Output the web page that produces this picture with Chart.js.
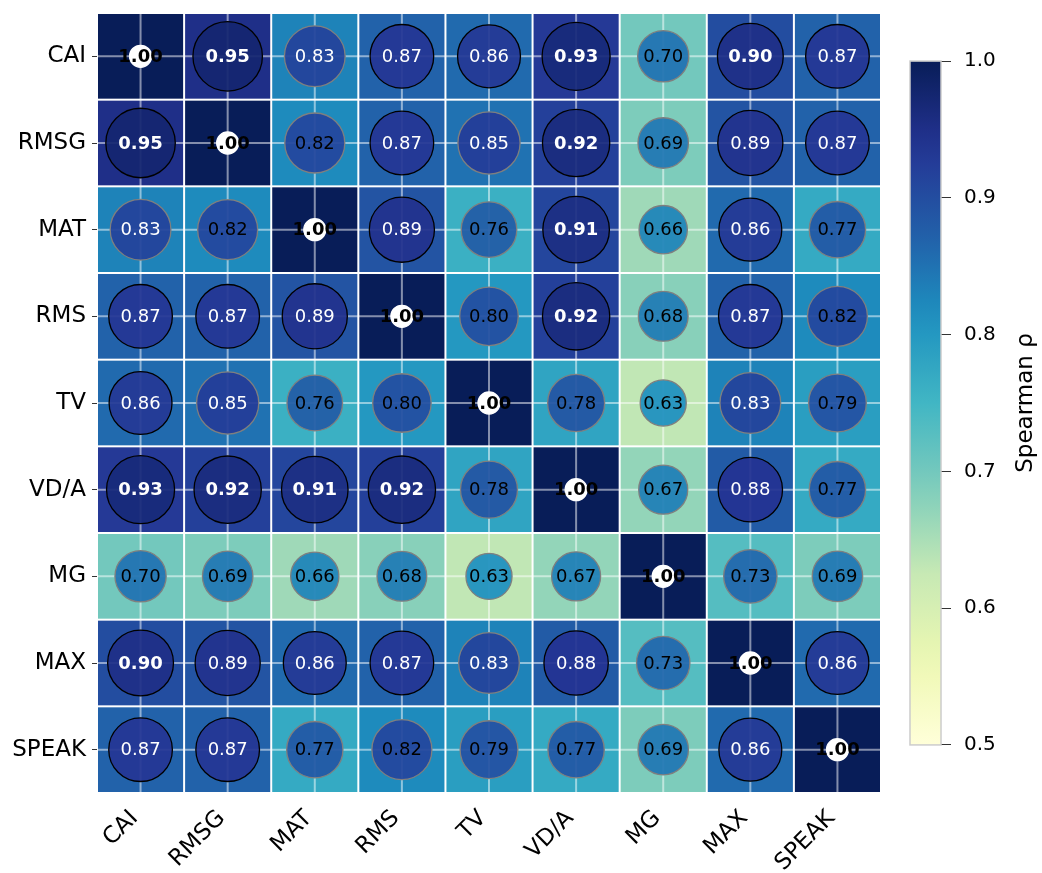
<!DOCTYPE html>
<html>
<head>
<meta charset="utf-8">
<script src="https://cdn.jsdelivr.net/npm/chart.js@4.4.1/dist/chart.umd.min.js"></script>
<style>
  body { margin: 0; background: #fff; }
  #wrap { width: 1042px; height: 873px; }
</style>
</head>
<body>
<div id="wrap"><canvas id="heat" width="1042" height="873"></canvas></div>
<script>
// variables (rows and columns use the same order)
const names = ["CAI", "RMSG", "MAT", "RMS", "TV", "VD/A", "MG", "MAX", "SPEAK"];

// spearman rho, one row per variable
const rowCAI   = [1.00, 0.95, 0.83, 0.87, 0.86, 0.93, 0.70, 0.90, 0.87];
const rowRMSG  = [0.95, 1.00, 0.82, 0.87, 0.85, 0.92, 0.69, 0.89, 0.87];
const rowMAT   = [0.83, 0.82, 1.00, 0.89, 0.76, 0.91, 0.66, 0.86, 0.77];
const rowRMS   = [0.87, 0.87, 0.89, 1.00, 0.80, 0.92, 0.68, 0.87, 0.82];
const rowTV    = [0.86, 0.85, 0.76, 0.80, 1.00, 0.78, 0.63, 0.83, 0.79];
const rowVDA   = [0.93, 0.92, 0.91, 0.92, 0.78, 1.00, 0.67, 0.88, 0.77];
const rowMG    = [0.70, 0.69, 0.66, 0.68, 0.63, 0.67, 1.00, 0.73, 0.69];
const rowMAX   = [0.90, 0.89, 0.86, 0.87, 0.83, 0.88, 0.73, 1.00, 0.86];
const rowSPEAK = [0.87, 0.87, 0.77, 0.82, 0.79, 0.77, 0.69, 0.86, 1.00];
const rho = [rowCAI, rowRMSG, rowMAT, rowRMS, rowTV, rowVDA, rowMG, rowMAX, rowSPEAK];

// colorbar
const cbarTicks = [0.5, 0.6, 0.7, 0.8, 0.9, 1.0];
const vmin = 0.5, vmax = 1.0;

// YlGnBu
const ylgnbu = ["#ffffd9", "#edf8b1", "#c7e9b4", "#7fcdbb", "#41b6c4", "#1d91c0", "#225ea8", "#253494", "#081d58"];
function hexRgb(h) {
  return [parseInt(h.slice(1, 3), 16), parseInt(h.slice(3, 5), 16), parseInt(h.slice(5, 7), 16)];
}
function cmap(t, a) {
  t = Math.max(0, Math.min(1, t));
  const p = t * (ylgnbu.length - 1);
  const i = Math.min(Math.floor(p), ylgnbu.length - 2);
  const f = p - i;
  const c0 = hexRgb(ylgnbu[i]), c1 = hexRgb(ylgnbu[i + 1]);
  const c = c0.map((v, k) => Math.round(v + (c1[k] - v) * f));
  return "rgba(" + c[0] + "," + c[1] + "," + c[2] + "," + (a === undefined ? 1 : a) + ")";
}

const points = [];
rho.forEach((row, i) => row.forEach((v, j) => points.push({ x: j, y: i, v: v, diag: i === j })));

const FONT = "'DejaVu Sans', sans-serif";

// circle size follows rho, relative to the cell width
function bubbleRadius(c) {
  const p = c.raw;
  const ca = c.chart.chartArea;
  if (!p || !ca) return 0;
  const cell = ca.width / names.length;
  return p.diag ? 11 : p.v * 0.42 * cell;
}

// no extra room for half labels at the ends of vertical axes
function noVPad(s) { s.paddingTop = 0; s.paddingBottom = 0; }

// cells + grid lines under the circles, values on top, colorbar at the side
const heatPlugin = {
  id: "heat",
  beforeDatasetsDraw(chart) {
    const { ctx, scales: { x, y } } = chart;
    ctx.save();
    points.forEach((p) => {
      const x0 = x.getPixelForValue(p.x - 0.5), x1 = x.getPixelForValue(p.x + 0.5);
      const y0 = y.getPixelForValue(p.y - 0.5), y1 = y.getPixelForValue(p.y + 0.5);
      ctx.fillStyle = cmap((p.v - vmin) / (vmax - vmin));
      ctx.fillRect(x0 + 1, y0 + 1, x1 - x0 - 2, y1 - y0 - 2);
    });
    ctx.strokeStyle = "rgba(255,255,255,0.5)";
    ctx.lineWidth = 2;
    names.forEach((n, k) => {
      const px = x.getPixelForValue(k), py = y.getPixelForValue(k);
      ctx.beginPath();
      ctx.moveTo(px, chart.chartArea.top); ctx.lineTo(px, chart.chartArea.bottom);
      ctx.moveTo(chart.chartArea.left, py); ctx.lineTo(chart.chartArea.right, py);
      ctx.stroke();
    });
    ctx.restore();
  },
  afterDatasetsDraw(chart) {
    const { ctx, scales: { x, y, cb } } = chart;
    ctx.save();
    ctx.textAlign = "center";
    ctx.textBaseline = "middle";
    points.forEach((p) => {
      const bold = p.diag || p.v >= 0.895;
      ctx.font = (bold ? "bold " : "") + "18px " + FONT;
      ctx.fillStyle = p.diag ? "#000" : (p.v >= 0.825 ? "#fff" : "#000");
      ctx.fillText(p.v.toFixed(2), x.getPixelForValue(p.x), y.getPixelForValue(p.y) + 1);
    });

    // colorbar
    const top = cb.getPixelForValue(vmax), bot = cb.getPixelForValue(vmin);
    const right = cb.left, left = right - 31;
    const g = ctx.createLinearGradient(0, bot, 0, top);
    for (let s = 0; s <= 20; s++) g.addColorStop(s / 20, cmap(s / 20));
    ctx.fillStyle = g;
    ctx.fillRect(left, top, right - left, bot - top);
    ctx.strokeStyle = "#cccccc";
    ctx.lineWidth = 1.5;
    ctx.strokeRect(left, top, right - left, bot - top);

    ctx.translate(cb.right - 16, (top + bot) / 2);
    ctx.rotate(-Math.PI / 2);
    ctx.font = "23px " + FONT;
    ctx.fillStyle = "#000";
    ctx.fillText("Spearman \u03c1", 0, 0);
    ctx.restore();
  }
};

const chart = new Chart(document.getElementById("heat"), {
  type: "scatter",
  data: {
    datasets: [{
      data: points,
      pointRadius: bubbleRadius,
      pointHoverRadius: bubbleRadius,
      pointBackgroundColor: (c) => c.raw && c.raw.diag ? "#fff" : cmap(c.raw ? c.raw.v : 0, 0.93),
      pointBorderColor: (c) => c.raw && c.raw.diag ? "#fff" : (c.raw && c.raw.v >= 0.855 ? "#000" : "#7f7f7f"),
      pointBorderWidth: 1.3,
    }],
  },
  options: {
    responsive: false,
    animation: false,
    layout: { padding: { top: 13, left: 0, right: 0, bottom: 0 } },
    plugins: { legend: { display: false }, tooltip: { enabled: false } },
    scales: {
      x: {
        type: "linear", min: -0.5, max: 8.5,
        afterBuildTicks: (s) => { s.ticks = names.map((n, k) => ({ value: k })); },
        afterFit: (s) => { s.height = 80; s.paddingLeft = 0; s.paddingRight = 0; },
        ticks: {
          autoSkip: false, minRotation: 45, maxRotation: 45, padding: 4, labelOffset: -6,
          color: "#000", font: { family: FONT, size: 23 },
          callback: (v) => names[v],
        },
        grid: { display: false },
        border: { display: false },
      },
      y: {
        type: "linear", reverse: true, min: -0.5, max: 8.5,
        afterBuildTicks: (s) => { s.ticks = names.map((n, k) => ({ value: k })); },
        afterFit: (s) => { s.width = 97; noVPad(s); },
        ticks: {
          autoSkip: false, padding: 6, color: "#000",
          font: { family: FONT, size: 23 },
          callback: (v) => names[v],
        },
        grid: { drawOnChartArea: false, drawTicks: true, tickLength: 5, color: "#333" },
        border: { display: false },
      },
      gap: {
        type: "linear", position: "right", weight: 0,
        ticks: { display: false }, grid: { display: false }, border: { display: false },
        afterFit: (s) => { s.width = 60; noVPad(s); },
      },
      cb: {
        type: "linear", position: "right", weight: 1,
        min: vmin - 48 / 1366, max: vmax + 48 / 1366,
        afterBuildTicks: (s) => { s.ticks = cbarTicks.map((v) => ({ value: v })); },
        afterFit: (s) => { s.width = 101; noVPad(s); },
        ticks: {
          padding: 13, color: "#000", font: { family: FONT, size: 20 },
          callback: (v) => v.toFixed(1),
        },
        grid: { drawOnChartArea: false, drawTicks: true, tickLength: 10, color: "#333" },
        border: { display: false },
      },
    },
  },
  plugins: [heatPlugin],
});
</script>
</body>
</html>
